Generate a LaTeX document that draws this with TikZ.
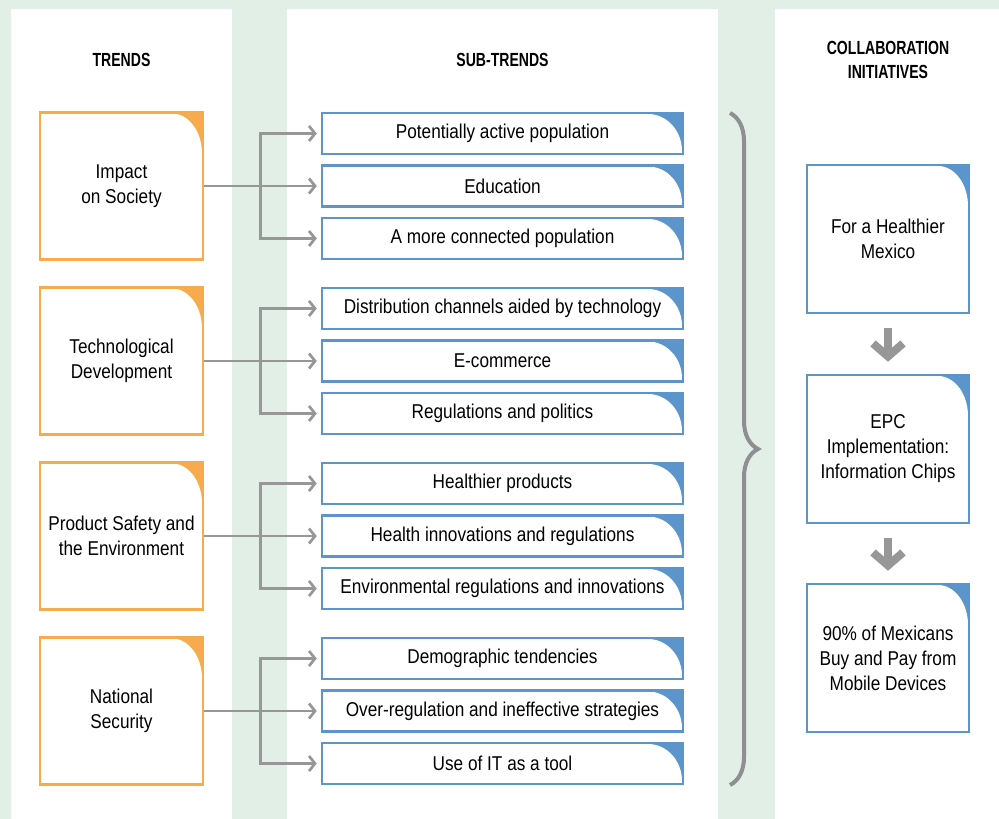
\documentclass[tikz,border=0pt]{standalone}
\usepackage{fontspec}
\setmainfont{Liberation Sans}[FakeStretch=0.86]
\newfontfamily\headfont{Liberation Sans}[FakeStretch=0.74]
\usetikzlibrary{positioning, arrows.meta, calc, decorations.pathreplacing}

\definecolor{bggreen}{HTML}{E1EFE6}
\definecolor{trendorange}{HTML}{F6AC4C}
\definecolor{subblue}{HTML}{5B95CC}
\definecolor{linkgray}{HTML}{979797}
\definecolor{bracegray}{HTML}{8E8E93}

% white body with a rounded top right corner, the fill colour shows in the corner
\newcommand{\cutcorner}[2]{%
  \fill[white] ($(path picture bounding box.south west)+(1pt,1pt)$)
    -- ($(path picture bounding box.north west)+(1pt,-1pt)$)
    -- ($(path picture bounding box.north east)+(-#1-1pt,-1pt)$)
    arc[start angle=90, end angle=0, x radius=#1, y radius=#2]
    -- ($(path picture bounding box.south east)+(-1pt,1pt)$) -- cycle;}

\begin{document}
\begin{tikzpicture}[
        x=1pt, y=-1pt,
        body/.style={font=\fontsize{20}{25}\selectfont, align=center, inner sep=0pt},
        trend/.style={body, draw=trendorange, fill=trendorange, line width=2.5pt, minimum width=163pt, minimum height=147pt, path picture={\cutcorner{30pt}{40pt}}},
        sub/.style={body, draw=subblue, fill=subblue, line width=2.5pt, minimum width=361pt, minimum height=41pt, path picture={\cutcorner{34pt}{37pt}}},
        collab/.style={body, draw=subblue, fill=subblue, line width=2.5pt, minimum width=162pt, minimum height=148pt, path picture={\cutcorner{30pt}{40pt}}},
        head/.style={font=\headfont\bfseries\fontsize{19}{24}\selectfont, align=center},
        link/.style={draw=linkgray, line width=2.7pt, -{Straight Barb[length=6pt, width=15pt]}, shorten >=4pt},
        flow/.style={draw=linkgray, line width=8pt, -{Straight Barb[length=13pt, width=30pt]}},
    ]
    % Background and columns
    \fill[bggreen] (0,0) rectangle (999,819);
    \fill[white] (11,9) rectangle (232,819);
    \fill[white] (287,9) rectangle (718,819);
    \fill[white] (775,9) rectangle (999,819);
    \useasboundingbox (0,0) rectangle (999,819);

    % Headings
    \node[head] (h1) at (121.5,60) {TRENDS};
    \node[head] (h2) at (502.5,60) {SUB-TRENDS};
    \node[head] (h3) at (888,60) {COLLABORATION\\INITIATIVES};

    % Trends
    \node[trend] (t1) at (121.5,186) {Impact\\on Society};
    \node[trend] (t2) at (121.5,361) {Technological\\Development};
    \node[trend] (t3) at (121.5,536) {Product Safety and\\the Environment};
    \node[trend] (t4) at (121.5,711) {National\\Security};

    % Sub-trends
    \node[sub] (s11) at (502.5,133.5) {Potentially active population};
    \node[sub] (s12) at (502.5,186) {Education};
    \node[sub] (s13) at (502.5,238.5) {A more connected population};

    \node[sub] (s21) at (502.5,308.5) {Distribution channels aided by technology};
    \node[sub] (s22) at (502.5,361) {E-commerce};
    \node[sub] (s23) at (502.5,413.5) {Regulations and politics};

    \node[sub] (s31) at (502.5,483.5) {Healthier products};
    \node[sub] (s32) at (502.5,536) {Health innovations and regulations};
    \node[sub] (s33) at (502.5,588.5) {Environmental regulations and innovations};

    \node[sub] (s41) at (502.5,658.5) {Demographic tendencies};
    \node[sub] (s42) at (502.5,711) {Over-regulation and ineffective strategies};
    \node[sub] (s43) at (502.5,763.5) {Use of IT as a tool};

    % Links trend -> sub-trends
    \foreach \g in {1,2,3,4} {
        \coordinate (j\g) at ([xshift=56pt]t\g.east);
        \draw[link] (t\g.east) -- (s\g2.west);
        \draw[link] (j\g) |- (s\g1.west);
        \draw[link] (j\g) |- (s\g3.west);
    }

    % Brace
    \draw[bracegray, line width=4pt, decorate, decoration={brace, amplitude=28pt}] (730,113) -- (730,785);

    % Collaboration initiatives
    \node[collab] (c1) at (888,239) {For a Healthier\\Mexico};
    \node[collab] (c2) at (888,449) {EPC\\Implementation:\\Information Chips};
    \node[collab] (c3) at (888,658) {90\% of Mexicans\\Buy and Pay from\\Mobile Devices};

    \draw[flow, shorten <=14pt, shorten >=12pt] (c1.south) -- (c2.north);
    \draw[flow, shorten <=14pt, shorten >=12pt] (c2.south) -- (c3.north);
\end{tikzpicture}
\end{document}
